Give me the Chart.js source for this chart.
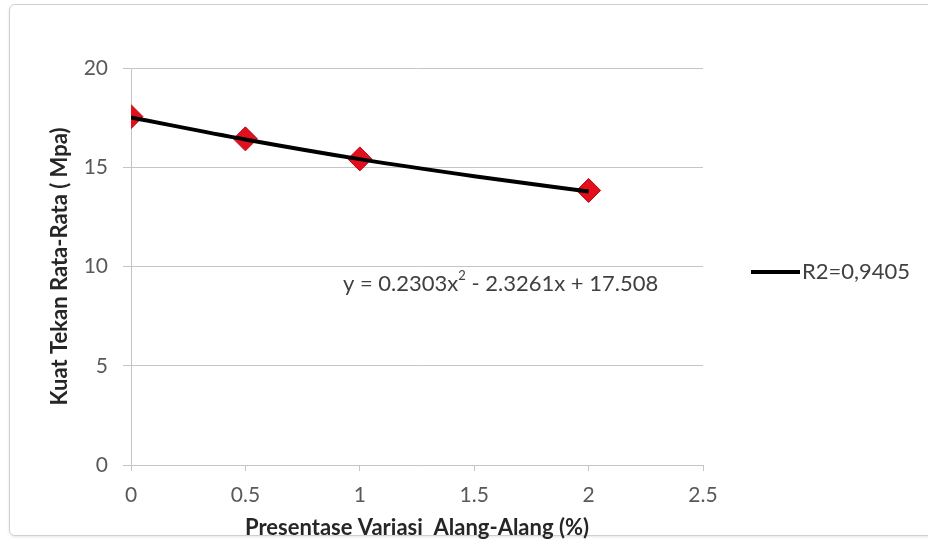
<!DOCTYPE html>
<html>
<head>
<meta charset="utf-8">
<script src="https://cdn.jsdelivr.net/npm/chart.js@4"></script>
<style>
  html, body { margin: 0; padding: 0; background: #fff; }
  #wrap { position: relative; width: 928px; height: 545px; overflow: hidden; }
  #frame { position: absolute; left: 9px; top: 4px; width: 940px; height: 530px;
           border: 1px solid #cfcfcf; border-radius: 6px; box-shadow: 0 1px 3px #e4e4e4; }
  #kuat { position: absolute; left: 0; top: 0; }
</style>
</head>
<body>
<div id="wrap">
  <div id="frame"></div>
  <canvas id="kuat" width="928" height="545"></canvas>
</div>
<script>
// percent of alang-alang fibre vs average compressive strength
const persen = [0, 0.5, 1, 2];
const kuatTekan = [17.55, 16.43, 15.42, 13.83];

// polynomial trendline
const trendX = [0, 0.5, 1, 1.5, 2];
const trendY = [17.51, 16.40, 15.41, 14.55, 13.78];

const xTicks = [0, 0.5, 1, 1.5, 2, 2.5];
const yTicks = [0, 5, 10, 15, 20];

const legendText = 'R2=0,9405';
const eqParts = ['y = 0.2303x', '2', ' - 2.3261x + 17.508'];

const FONT = 'Lato, "Open Sans", sans-serif';
const gridGray = '#c4c4c4';

const extras = {
  id: 'extras',
  afterDraw(chart) {
    const c = chart.ctx;
    c.save();
    // legend for the trendline
    c.strokeStyle = '#000';
    c.lineWidth = 4;
    c.beginPath();
    c.moveTo(751, 272);
    c.lineTo(800, 272);
    c.stroke();
    c.fillStyle = '#404040';
    c.font = '22px ' + FONT;
    c.textBaseline = 'middle';
    c.fillText(legendText, 802, 272);

    // trendline equation
    let x = 343;
    const y = 284;
    c.font = '22px ' + FONT;
    c.fillText(eqParts[0], x, y);
    x += c.measureText(eqParts[0]).width;
    c.font = '13px ' + FONT;
    c.fillText(eqParts[1], x, y - 8);
    x += c.measureText(eqParts[1]).width;
    c.font = '22px ' + FONT;
    c.fillText(eqParts[2], x, y);
    c.restore();
  }
};

new Chart(document.getElementById('kuat'), {
  type: 'scatter',
  data: {
    datasets: [
      {
        label: 'R2=0,9405',
        data: trendX.map((v, i) => ({ x: v, y: trendY[i] })),
        showLine: true,
        borderColor: '#000',
        borderWidth: 4,
        pointRadius: 0,
        cubicInterpolationMode: 'monotone',
        order: 0
      },
      {
        label: 'Kuat Tekan',
        data: persen.map((v, i) => ({ x: v, y: kuatTekan[i] })),
        pointStyle: 'rectRot',
        pointRadius: 12,
        pointBackgroundColor: '#e2101c',
        pointBorderColor: '#c00010',
        pointBorderWidth: 1,
        order: 1
      }
    ]
  },
  options: {
    responsive: false,
    animation: false,
    layout: { padding: { left: 0, top: 68, right: 225, bottom: 0 } },
    plugins: {
      legend: { display: false },
      tooltip: { enabled: false }
    },
    scales: {
      x: {
        type: 'linear',
        min: 0,
        max: 2.5,
        afterBuildTicks: s => { s.ticks = xTicks.map(v => ({ value: v })); },
        afterFit: s => { s.height = 80; },
        grid: { drawOnChartArea: false, color: gridGray, tickLength: 6 },
        border: { color: gridGray },
        ticks: {
          color: '#595959',
          font: { family: FONT, size: 21 },
          padding: 12,
          callback: v => String(v)
        },
        title: {
          display: true,
          text: 'Presentase Variasi  Alang-Alang (%)',
          color: '#262626',
          font: { family: FONT, size: 22, weight: 'bold' },
          padding: { top: 0, bottom: 4 }
        }
      },
      y: {
        min: 0,
        max: 20,
        afterBuildTicks: s => { s.ticks = yTicks.map(v => ({ value: v })); },
        afterFit: s => { s.width = 131; },
        grid: { color: gridGray, tickLength: 8 },
        border: { color: gridGray },
        ticks: {
          color: '#595959',
          font: { family: FONT, size: 21 },
          padding: 15,
          callback: v => String(v)
        },
        title: {
          display: true,
          text: 'Kuat Tekan Rata-Rata ( Mpa)',
          color: '#262626',
          font: { family: FONT, size: 22, weight: 'bold' },
          padding: { top: 47, bottom: 0 }
        }
      }
    }
  },
  plugins: [extras]
});
</script>
</body>
</html>
